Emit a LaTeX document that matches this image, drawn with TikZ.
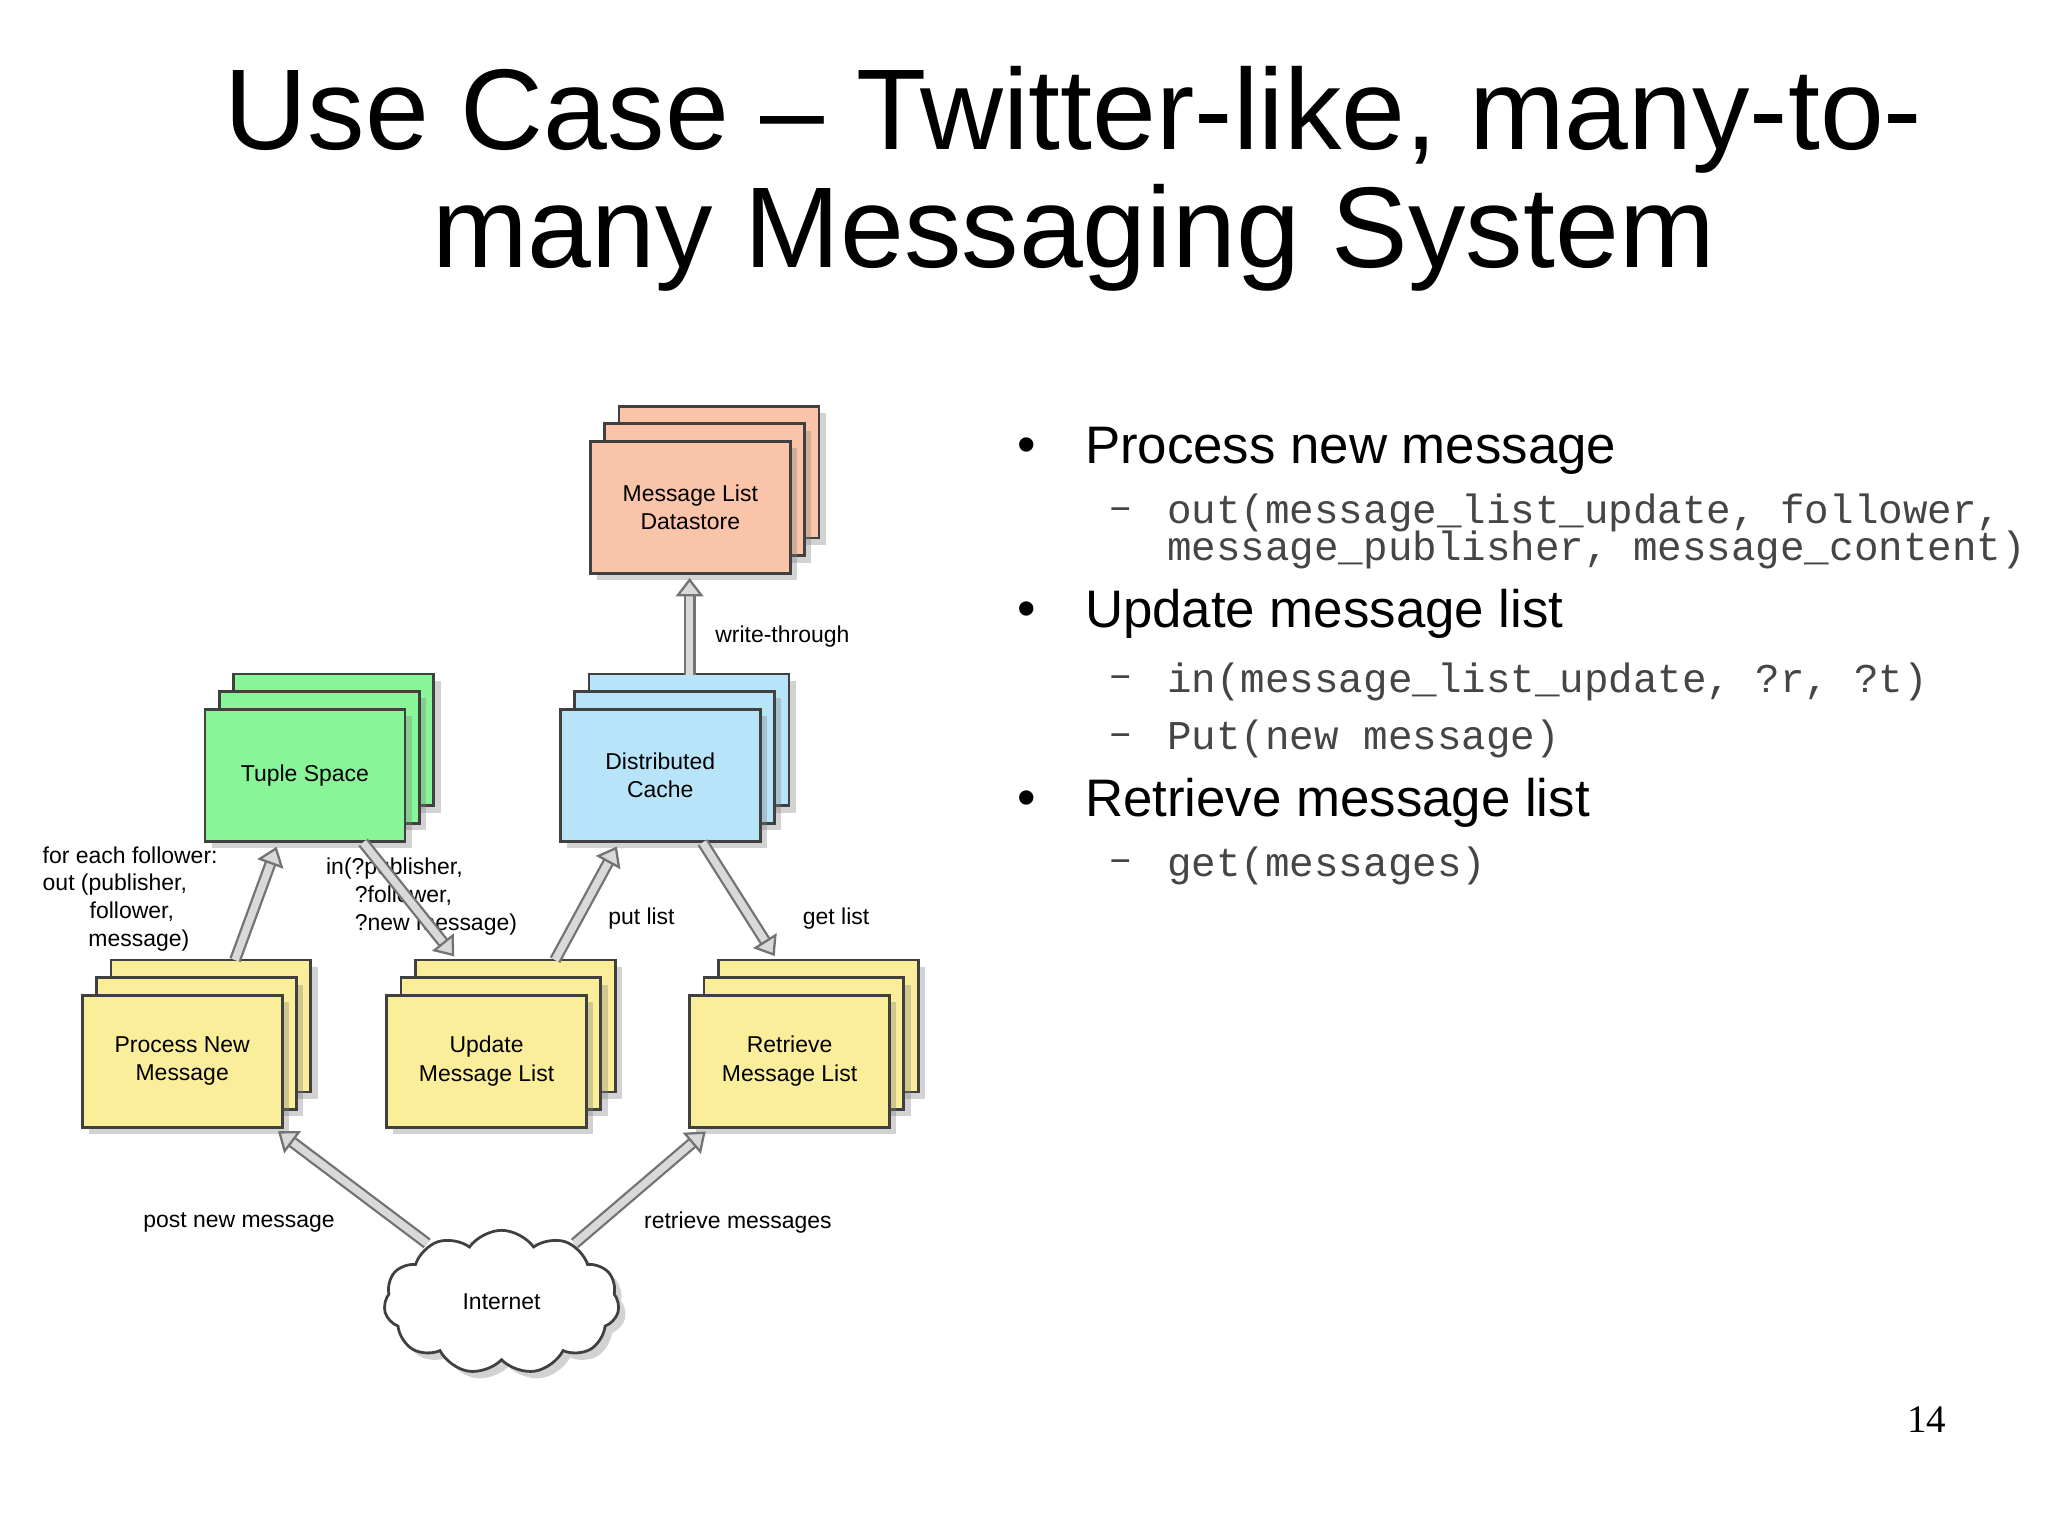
\documentclass[tikz,border=0pt]{standalone}
\usepackage{fontspec}
\setmainfont{Liberation Sans}
\newfontfamily\monof{Liberation Mono}
\newfontfamily\serf{Liberation Serif}
\usetikzlibrary{shapes.symbols,shadows,arrows.meta}
\definecolor{salm}{HTML}{F9C4A8}
\definecolor{grn}{HTML}{88F598}
\definecolor{blu}{HTML}{B8E4FA}
\definecolor{yel}{HTML}{FBEE9A}
\definecolor{codeg}{HTML}{454545}
\tikzset{
  lay/.style={draw=black!75,line width=0.6pt,drop shadow={shadow xshift=1.5pt,shadow yshift=-1.5pt,opacity=0.35}},
  box/.style={lay,minimum width=1.53cm,minimum height=1.01cm,align=center,font=\fontsize{5}{6.2}\selectfont,inner sep=0pt},
  lbl/.style={font=\fontsize{5}{6.2}\selectfont,inner sep=0pt},
  garrow/.style={draw=black!55,double=black!15,double distance=1.6pt,line width=0.5pt,
     -{Triangle[open,fill=black!15,length=4pt,width=6pt]},shorten >=1pt},
  bul/.style={font=\fontsize{11.5}{13}\selectfont,anchor=west,inner sep=0pt},
  code/.style={font=\monof\fontsize{8.9}{9}\selectfont,text=codeg,anchor=west,inner sep=0pt},
  ttl/.style={font=\fontsize{25}{26}\selectfont,inner sep=0pt}
}
\newcommand{\stk}[5]{%
  \path[lay,fill=#4] ({#2-54.5},{#3-77.5}) rectangle ++(153,101);
  \path[lay,fill=#4] ({#2-65.5},{#3-64}) rectangle ++(153,101);
  \node[box,fill=#4] (#1) at (#2,#3) {#5};}
\begin{document}
\begin{tikzpicture}[x=0.01cm,y=-0.01cm]
\useasboundingbox (0,0) rectangle (1568,1176);
\fill[white] (0,0) rectangle (1568,1176);
\node[ttl] (t1) at (822,92) {Use Case – Twitter-like, many-to-};
\node[ttl] (t2) at (822,182) {many Messaging System};

\node[bul] (b1d) at (778,345) {•};
\node[bul] (b1) at (830,345) {Process new message};
\node[code] (c1d) at (848,393) {–};
\node[code] (c1) at (893,393) {out(message\_list\_update, follower,};
\node[code] (c1b) at (893,421) {message\_publisher, message\_content)};
\node[bul] (b2d) at (778,470) {•};
\node[bul] (b2) at (830,470) {Update message list};
\node[code] (c2d) at (848,522) {–};
\node[code] (c2) at (893,522) {in(message\_list\_update, ?r, ?t)};
\node[code] (c3d) at (848,566) {–};
\node[code] (c3) at (893,566) {Put(new message)};
\node[bul] (b3d) at (778,615) {•};
\node[bul] (b3) at (830,615) {Retrieve message list};
\node[code] (c4d) at (848,663) {–};
\node[code] (c4) at (893,663) {get(messages)};
\node[font=\serf\fontsize{8.5}{9}\selectfont] (pg) at (1475,1087) {14};

\stk{ds}{528.5}{388.5}{salm}{Message List\\Datastore}
\stk{ts}{233.5}{593.5}{grn}{Tuple Space}
\stk{dc}{505.5}{593.5}{blu}{Distributed\\Cache}
\stk{pn}{139.5}{812.5}{yel}{Process New\\Message}
\stk{um}{372.5}{812.5}{yel}{Update\\Message List}
\stk{rm}{604.5}{812.5}{yel}{Retrieve\\Message List}
\node[cloud,cloud puffs=11,cloud puff arc=110,aspect=1.7,draw=black!75,line width=0.6pt,fill=white,
  minimum width=1.8cm,minimum height=1.1cm,font=\fontsize{5}{6.2}\selectfont,
  drop shadow={shadow xshift=1.5pt,shadow yshift=-1.5pt,opacity=0.35}] (net) at (384,997) {Internet};

\coordinate (a1s) at (180,735); \coordinate (a1e) at (213,645);
\coordinate (a2s) at (278,645); \coordinate (a2e) at (350,735);
\coordinate (a3s) at (425,735); \coordinate (a3e) at (474,645);
\coordinate (a4s) at (538,645); \coordinate (a4e) at (595,735);
\coordinate (a5s) at (528,517); \coordinate (a5e) at (528,439);
\coordinate (a6s) at (327,952); \coordinate (a6e) at (210,864);
\coordinate (a7s) at (440,952); \coordinate (a7e) at (543,864);
\draw[garrow] (a1s) -- (a1e);
\draw[garrow] (a3s) -- (a3e);
\draw[garrow] (a4s) -- (a4e);
\draw[garrow] (a5s) -- (a5e);
\draw[garrow] (a6s) -- (a6e);
\draw[garrow] (a7s) -- (a7e);

\node[lbl,anchor=west] (l1) at (32,655) {for each follower:};
\node[lbl,anchor=west] (l2) at (32,677) {out (publisher,};
\node[lbl,anchor=west] (l3) at (68,698) {follower,};
\node[lbl,anchor=west] (l4) at (67,720) {message)};
\node[lbl,anchor=west] (l5) at (249,665) {in(?publisher,};
\node[lbl,anchor=west] (l6) at (271,686) {?follower,};
\node[lbl,anchor=west] (l7) at (271,708) {?new message)};
\draw[garrow] (a2s) -- (a2e);
\node[lbl,anchor=west] (l8) at (547,487) {write-through};
\node[lbl,anchor=west] (l9) at (465,703) {put list};
\node[lbl,anchor=west] (l10) at (614,703) {get list};
\node[lbl] (l11) at (183,936) {post new message};
\node[lbl] (l12) at (565,936) {retrieve messages};
\end{tikzpicture}
\end{document}
